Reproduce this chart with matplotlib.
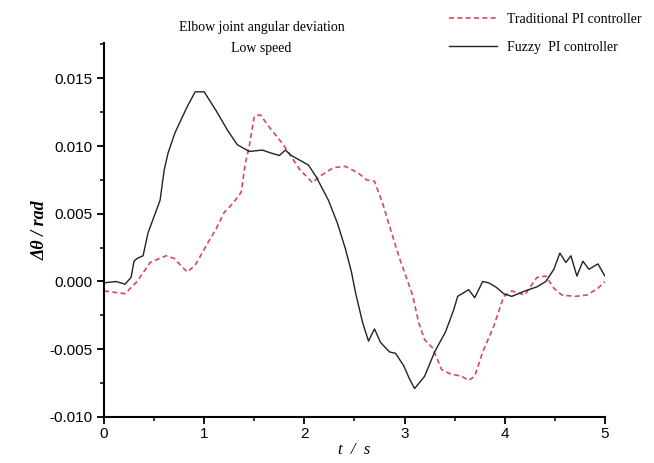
import matplotlib
matplotlib.use('Agg')
import matplotlib.pyplot as plt
from matplotlib.ticker import MultipleLocator

# Fuzzy PI controller (solid black)
t_fuzzy = [0.00, 0.12, 0.21, 0.27, 0.30, 0.33, 0.39, 0.44, 0.50, 0.56, 0.60, 0.64,
           0.71, 0.83, 0.91, 1.00, 1.12, 1.23, 1.33, 1.45, 1.58, 1.66, 1.75, 1.81,
           1.87, 2.04, 2.12, 2.24, 2.33, 2.41, 2.47, 2.51, 2.58, 2.64, 2.70, 2.76,
           2.85, 2.91, 2.99, 3.05, 3.10, 3.20, 3.30, 3.41, 3.49, 3.53, 3.64, 3.70,
           3.78, 3.84, 3.91, 3.99, 4.07, 4.20, 4.32, 4.41, 4.49, 4.55, 4.61, 4.66,
           4.72, 4.78, 4.84, 4.93, 5.00]
v_fuzzy = [-0.0001, 0.0000, -0.0002, 0.0003, 0.0015, 0.0017, 0.0019, 0.0036, 0.0048, 0.0060, 0.0082, 0.0095,
           0.0110, 0.0129, 0.0140, 0.0140, 0.0126, 0.0112, 0.0101, 0.0096, 0.0097, 0.0095, 0.0093, 0.0097,
           0.0093, 0.0086, 0.0077, 0.0060, 0.0043, 0.0024, 0.0007, -0.0008, -0.0030, -0.0044, -0.0035, -0.0045,
           -0.0052, -0.0053, -0.0062, -0.0072, -0.0079, -0.0070, -0.0052, -0.0037, -0.0021, -0.0011, -0.0006, -0.0012,
           0.0000, -0.0001, -0.0004, -0.0009, -0.0011, -0.0007, -0.0004, 0.0000, 0.0009, 0.0021, 0.0014, 0.0019,
           0.0004, 0.0015, 0.0009, 0.0013, 0.0004]

# Traditional PI controller (dashed red)
t_trad = [0.00, 0.21, 0.33, 0.46, 0.62, 0.70, 0.83, 0.91, 1.04, 1.12, 1.20, 1.29,
          1.37, 1.41, 1.45, 1.50, 1.56, 1.66, 1.79, 1.87, 1.95, 2.08, 2.16, 2.29,
          2.41, 2.54, 2.62, 2.70, 2.78, 2.87, 2.95, 3.08, 3.14, 3.20, 3.28, 3.37,
          3.45, 3.57, 3.64, 3.70, 3.78, 3.89, 3.99, 4.07, 4.20, 4.32, 4.41, 4.49,
          4.57, 4.70, 4.82, 4.93, 5.00]
v_trad = [-0.0007, -0.0009, 0.0000, 0.0014, 0.0019, 0.0017, 0.0007, 0.0012, 0.0029, 0.0039, 0.0051, 0.0058,
          0.0066, 0.0087, 0.0100, 0.0122, 0.0123, 0.0113, 0.0101, 0.0092, 0.0083, 0.0073, 0.0078, 0.0084,
          0.0085, 0.0080, 0.0075, 0.0074, 0.0058, 0.0036, 0.0017, -0.0010, -0.0030, -0.0043, -0.0049, -0.0065,
          -0.0068, -0.0070, -0.0073, -0.0070, -0.0052, -0.0033, -0.0011, -0.0007, -0.0010, 0.0003, 0.0004, -0.0005,
          -0.0010, -0.0011, -0.0010, -0.0005, 0.0000]

fig = plt.figure(figsize=(6.54, 4.63), dpi=100)
ax = fig.add_axes([0.159, 0.0994, 0.766, 0.8076])

l1, = ax.plot(t_trad, v_trad, color='#d9485a', linestyle=(0, (3, 2)), linewidth=1.2,
              label='Traditional PI controller')
l2, = ax.plot(t_fuzzy, v_fuzzy, color='#222222', linewidth=1.0,
              label='Fuzzy  PI controller')

ax.set_xlim(0, 5)
ax.set_ylim(-0.010, 0.0176)
ax.xaxis.set_major_locator(MultipleLocator(1))
ax.xaxis.set_minor_locator(MultipleLocator(0.5))
ax.yaxis.set_major_locator(MultipleLocator(0.005))
ax.yaxis.set_minor_locator(MultipleLocator(0.0025))
ax.yaxis.set_major_formatter(plt.FuncFormatter(lambda v, p: '%.3f' % v))

for s in ['top', 'right']:
    ax.spines[s].set_visible(False)
for s in ['left', 'bottom']:
    ax.spines[s].set_linewidth(1.5)
ax.tick_params(which='major', direction='out', length=5, width=1.3,
               labelsize=11, labelfontfamily='Liberation Sans')
ax.tick_params(which='minor', direction='out', length=3, width=1.1)
ax.tick_params(axis='x', pad=2)

ax.set_xlabel('t  /  s', fontsize=12, family='Liberation Serif', style='italic', labelpad=1)
ax.set_ylabel('Δθ / rad', fontsize=13, family='Liberation Serif', style='italic',
              weight='bold', labelpad=0)

fig.text(0.40, 0.918, 'Elbow joint angular deviation\nLow speed', ha='center', va='center',
         family='Liberation Serif', fontsize=10, linespacing=1.8)

fig.legend(handles=[l1, l2], loc='upper right', bbox_to_anchor=(1.0, 1.0), frameon=False,
           handlelength=3.5, labelspacing=1.1, handletextpad=0.7,
           prop={'family': 'Liberation Serif', 'size': 10})

fig.savefig('out.png', dpi=100)
